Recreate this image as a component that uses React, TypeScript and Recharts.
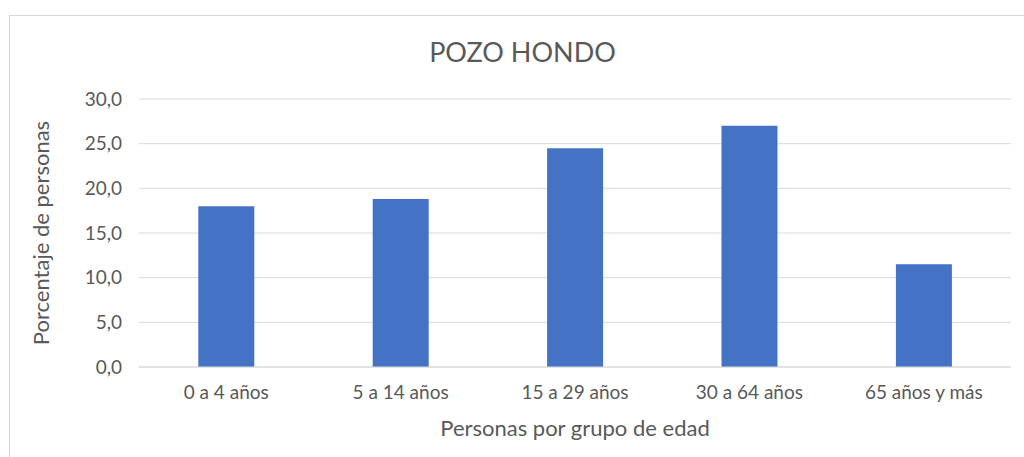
import { BarChart, Bar, XAxis, YAxis, CartesianGrid, Label } from 'recharts';

// Porcentaje de personas por grupo de edad, Pozo Hondo
const ageGroups = ['0 a 4 años', '5 a 14 años', '15 a 29 años', '30 a 64 años', '65 años y más'];
const percentages = [18.0, 18.8, 24.5, 27.0, 11.5];
const yTicks = [0, 5, 10, 15, 20, 25, 30];

const data = ageGroups.map((group, i) => ({ group, value: percentages[i] }));

const FONT = 'Lato, "Open Sans", sans-serif';
const TEXT = '#595959';
const GRID = '#d9d9d9';

const formatTick = (v: number) => v.toFixed(1).replace('.', ',');

export default function App() {
  return (
    <div
      style={{
        position: 'absolute',
        left: 0,
        top: 0,
        width: 1024,
        height: 457,
        background: '#fff',
        overflow: 'hidden',
        fontFamily: FONT,
      }}
    >
      {/* chart frame */}
      <div
        style={{
          position: 'absolute',
          left: 9,
          top: 15,
          width: 1040,
          height: 480,
          border: `1px solid ${GRID}`,
        }}
      />
      <div
        style={{
          position: 'absolute',
          left: 0,
          top: 34,
          width: 1045,
          textAlign: 'center',
          fontSize: 27,
          color: TEXT,
          lineHeight: '36px',
        }}
      >
        POZO HONDO
      </div>
      <BarChart
        width={1024}
        height={457}
        data={data}
        margin={{ top: 99, right: 13, bottom: 0, left: 0 }}
        barCategoryGap="34%"
        style={{ position: 'absolute', left: 0, top: 0 }}
      >
        <CartesianGrid vertical={false} stroke={GRID} strokeWidth={1} />
        <XAxis
          dataKey="group"
          height={90}
          axisLine={{ stroke: GRID }}
          tickLine={false}
          tickSize={0}
          tickMargin={19}
          tick={{ fill: TEXT, fontSize: 19, fontFamily: FONT }}
        >
          <Label
            content={({ viewBox }: any) => (
              <text
                x={viewBox.x + viewBox.width / 2}
                y={436}
                textAnchor="middle"
                fill={TEXT}
                fontSize={22}
                fontFamily={FONT}
              >
                Personas por grupo de edad
              </text>
            )}
          />
        </XAxis>
        <YAxis
          width={139}
          domain={[0, 30]}
          ticks={yTicks}
          axisLine={false}
          tickLine={false}
          tickSize={0}
          tickMargin={17}
          tickFormatter={formatTick}
          tick={{ fill: TEXT, fontSize: 19, fontFamily: FONT }}
        >
          <Label
            content={({ viewBox }: any) => {
              const cy = viewBox.y + viewBox.height / 2;
              return (
                <text
                  x={49}
                  y={cy}
                  transform={`rotate(-90, 49, ${cy})`}
                  textAnchor="middle"
                  fill={TEXT}
                  fontSize={22}
                  fontFamily={FONT}
                >
                  Porcentaje de personas
                </text>
              );
            }}
          />
        </YAxis>
        <Bar dataKey="value" fill="#4472C4" isAnimationActive={false} />
      </BarChart>
    </div>
  );
}
